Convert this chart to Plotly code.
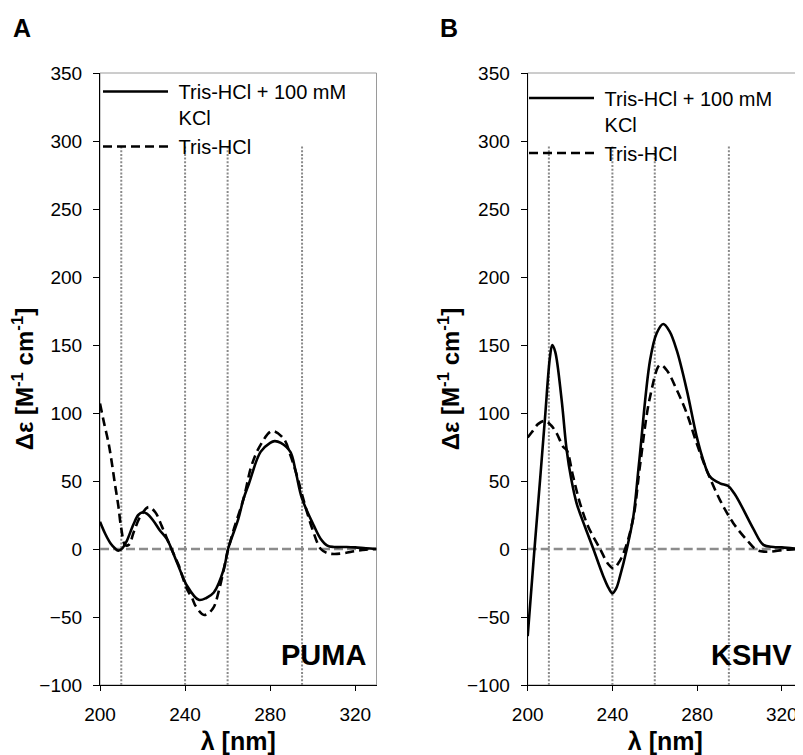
import plotly.graph_objects as go

# ---------------- data ----------------
# Panel A: PUMA
puma_kcl_x = [200, 202.5, 205, 207, 208.6, 210.5, 212.6, 215.7, 218, 220, 222, 225, 228, 231.4, 236.2,
              240.9, 246.4, 250, 253.5, 258.2, 260.2, 265, 267.5, 270, 275.5, 280, 282.1, 285, 289.5,
              292, 295, 300.6, 303.8, 306.9, 310, 316, 320, 325, 330]
puma_kcl_y = [20, 11, 4, 0.5, -1.2, 0.5, 6, 18, 25, 27, 26, 21, 14, 7.4, -9.9,
              -27, -37.4, -36, -32, -14.8, 0, 22, 37, 48, 71.4, 78, 79.3, 78, 71.4,
              57, 37, 17, 7.4, 2.5, 1.5, 1.5, 1.2, 0.5, 0]

puma_tris_x = [200, 202, 204, 205.5, 207, 208.6, 210, 211.8, 213.5, 216, 219, 222.8, 226, 229, 233, 237,
               240.9, 243.2, 245, 249, 253, 256, 260, 263, 267.5, 271.3, 275.5, 280.9, 286.4, 289.5,
               292.6, 295, 300, 303.8, 307, 310, 315, 320, 325, 330]
puma_tris_y = [107, 92, 78, 64, 48, 32, 15, 3, 3, 13, 24, 30.8, 27, 17, 2, -12,
               -29.6, -35.7, -42, -48.5, -44, -30, -2, 15, 37, 61.6, 76.6, 86.7, 81, 69,
               54, 40, 14, 0, -3, -3.7, -3, -1.5, -0.5, 0]

# Panel B: KSHV
kshv_kcl_x = [200, 203, 206, 208.2, 210.5, 211.6, 213, 216, 218.4, 220.5, 223.1, 227, 231, 235.7,
              238.3, 240, 241.8, 243.6, 246.8, 249.9, 252.5, 257.8, 260.9, 264, 267, 270.4, 275.1, 279.8,
              282.9, 286.1, 290.8, 294.7, 297.5, 300.3, 306.5, 311.3, 316, 320, 325, 330]
kshv_kcl_y = [-64, -4, 54, 97, 141, 150, 145, 110, 72.8, 52, 33.6, 16.5, 0, -20,
              -29, -32.6, -29, -20, 0, 24, 62, 139, 158.6, 165.4, 160, 146, 117, 82.6,
              65.4, 53.2, 48.3, 46.3, 41, 33.6, 15, 3, 1.5, 1.2, 0.5, 0]

kshv_tris_x = [200, 202, 205, 208.2, 211, 213.7, 216.8, 218.4, 221.5, 224.7, 228.6, 234.2, 238, 240.5,
               243, 246, 250, 253, 257.8, 262.5, 265.6, 270.4, 275.1, 279.8, 284.5, 290.8, 297.1,
               303.5, 308.2, 312.9, 320.8, 325, 330]
kshv_tris_y = [82, 86, 92, 94.3, 91, 85, 75, 72.8, 53, 33.6, 16.4, 0, -11, -14.2,
               -10, 0, 24, 61, 112, 135.3, 131.6, 117, 99.8, 77.7, 58, 36, 19,
               6.6, -0.7, -2, -0.7, -0.3, 0]

ref_wavelengths = [210, 240, 260, 295]
x_ticks = [200, 240, 280, 320]
series_names = ["\u00a0Tris-HCl + 100 mM<br>\u00a0KCl", "\u00a0Tris-HCl"]
panel_labels = ["A", "B"]
sample_names = ["PUMA", "KSHV"]

# ---------------- figure ----------------
FONT = "Liberation Sans, Arial, sans-serif"
OFF = 8                     # page body margin of the html page
W, H = 803 - OFF, 755 - OFF


def px(xp):
    return (xp - OFF) / W


def py(yp):
    return 1 - (yp - OFF) / H


fig = go.Figure()

panels = [
    (puma_kcl_x, puma_kcl_y, puma_tris_x, puma_tris_y, "x", "y", "legend"),
    (kshv_kcl_x, kshv_kcl_y, kshv_tris_x, kshv_tris_y, "x2", "y2", "legend2"),
]
for (kx, ky, tx, ty, xa, ya, lg) in panels:
    fig.add_trace(go.Scatter(x=kx, y=ky, mode="lines", name=series_names[0],
                             line=dict(color="black", width=2.6, shape="spline", smoothing=1),
                             xaxis=xa, yaxis=ya, legend=lg))
    fig.add_trace(go.Scatter(x=tx, y=ty, mode="lines", name=series_names[1],
                             line=dict(color="black", width=2.6, dash="9px,5px", shape="spline", smoothing=1),
                             xaxis=xa, yaxis=ya, legend=lg))

ydom = [py(685), py(73)]
xdoms = [[px(100), px(376.5)], [px(527.7), 1.0]]

axis_common = dict(showgrid=False, zeroline=False, showline=True, linecolor="black", linewidth=1.2,
                   ticks="outside", tickcolor="black", tickwidth=1.2, automargin=False,
                   tickfont=dict(family=FONT, size=19, color="black"))

for i in range(2):
    sx = "" if i == 0 else "2"
    fig.update_layout(**{
        f"xaxis{sx}": dict(axis_common, domain=xdoms[i], range=[200, 330], tickvals=x_ticks, ticklen=5,
                           anchor=f"y{sx}", ticklabelstandoff=7,
                           title=dict(text="<b>λ [nm]</b>", font=dict(family=FONT, size=25, color="black"),
                                      standoff=31)),
        f"yaxis{sx}": dict(axis_common, domain=ydom, range=[-100, 350], dtick=50, ticklen=6,
                           anchor=f"x{sx}", ticklabelstandoff=7,
                           title=dict(text="<b>Δε [M<sup>-1</sup> cm<sup>-1</sup>]</b>",
                                      font=dict(family=FONT, size=24, color="black"), standoff=0)),
    })
    xr, yr = f"x{sx}", f"y{sx}"
    # plot frame (top/right in gray)
    fig.add_shape(type="rect", xref=f"{xr} domain", yref=f"{yr} domain", x0=0, x1=1, y0=0, y1=1,
                  line=dict(color="#9a9a9a", width=1), layer="below")
    # zero reference line
    fig.add_shape(type="line", xref=f"{xr} domain", yref=yr, x0=0, x1=1, y0=0, y1=0,
                  line=dict(color="#8c8c8c", width=2.5, dash="9px,4px"), layer="below")
    # dotted reference wavelengths
    for wl in ref_wavelengths:
        fig.add_shape(type="line", xref=xr, yref=yr, x0=wl, x1=wl, y0=-100, y1=297,
                      line=dict(color="#8a8a8a", width=2, dash="2px,1.7px"), layer="below")
    # sample name
    fig.add_annotation(xref=f"{xr} domain", yref=f"{yr} domain", x=1, y=0, xanchor="right",
                       yanchor="bottom", xshift=-9, yshift=12, showarrow=False,
                       text=f"<b>{sample_names[i]}</b>", font=dict(family=FONT, size=29, color="black"))

# panel labels
fig.add_annotation(xref="paper", yref="paper", x=px(22), y=py(28), xanchor="center", yanchor="middle",
                   showarrow=False, text=f"<b>{panel_labels[0]}</b>", font=dict(family=FONT, size=25, color="black"))
fig.add_annotation(xref="paper", yref="paper", x=px(448.5), y=py(28), xanchor="center", yanchor="middle",
                   showarrow=False, text=f"<b>{panel_labels[1]}</b>", font=dict(family=FONT, size=25, color="black"))

legend_common = dict(bgcolor="rgba(0,0,0,0)", borderwidth=0, xanchor="left", yanchor="top",
                     font=dict(family=FONT, size=20, color="black"), itemwidth=65, valign="top",
                     tracegroupgap=0, traceorder="normal")
fig.update_layout(
    legend=dict(legend_common, x=px(98), y=py(72)),
    legend2=dict(legend_common, x=px(524), y=py(78.5)),
)

fig.update_layout(width=W, height=H, margin=dict(l=0, r=0, t=0, b=0, autoexpand=False),
                  paper_bgcolor="white", plot_bgcolor="white", showlegend=True,
                  font=dict(family=FONT, color="black"))

fig.write_html("out.html")
